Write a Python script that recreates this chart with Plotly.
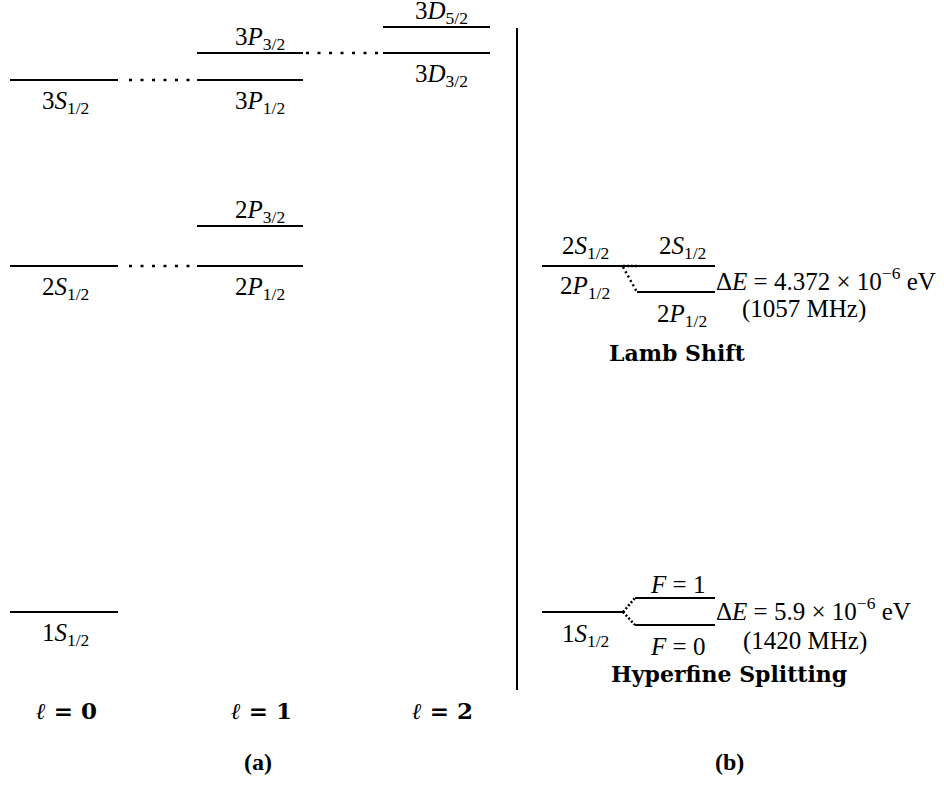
import plotly.graph_objects as go

# ---------------- data ----------------
# Panel (a): hydrogen fine-structure levels (schematic energies, arbitrary units)
a_labels = ["1<i>S</i><sub>1/2</sub>", "2<i>S</i><sub>1/2</sub>", "2<i>P</i><sub>1/2</sub>",
            "2<i>P</i><sub>3/2</sub>", "3<i>S</i><sub>1/2</sub>", "3<i>P</i><sub>1/2</sub>",
            "3<i>P</i><sub>3/2</sub>", "3<i>D</i><sub>3/2</sub>", "3<i>D</i><sub>5/2</sub>"]
a_ell = [0, 0, 1, 1, 0, 1, 1, 2, 2]
a_energy = [173, 519, 519, 559, 705, 705, 732, 732, 758]
a_label_above = [False, False, False, True, False, False, True, False, True]
# degenerate pairs joined by dotted lines (indices into a_*)
a_degenerate = [(1, 2), (4, 5), (6, 7)]
ell_labels = ["<b><i>ℓ</i> = 0</b>", "<b><i>ℓ</i> = 1</b>", "<b><i>ℓ</i> = 2</b>"]

# Panel (b): Lamb shift (schematic energies)
lamb_energy_2s = 519
lamb_energy_2p = 493
lamb_dE = "Δ<i>E</i> = 4.372 × 10<sup>−6</sup> eV"
lamb_freq = "(1057 MHz)"

# Panel (b): hyperfine splitting of 1S (schematic energies)
hf_energy_1s = 173
hf_energy_f1 = 187
hf_energy_f0 = 160
hf_dE = "Δ<i>E</i> = 5.9 × 10<sup>−6</sup> eV"
hf_freq = "(1420 MHz)"

# ---------------- layout constants ----------------
W, H = 944, 785
col_x0 = [10, 197, 383]
col_x1 = [118, 303, 490]
col_lab = [65, 260, 441]
dot_gap = {(1, 2): (129, 191), (4, 5): (129, 191), (6, 7): (306, 381)}
FONT = "Liberation Serif"
BFONT = "DejaVu Serif"
FS = 25
LW = 2

def Y(p):
    return H - p

fig = go.Figure()

def seg(xs, ys, dash="solid", width=LW):
    fig.add_trace(go.Scatter(x=xs, y=ys, mode="lines",
                             line=dict(color="black", width=width, dash=dash),
                             hoverinfo="skip", showlegend=False))

def hline(x0, x1, y, dash="solid", width=LW):
    seg([x0, x1], [y, y], dash, width)

annots = []
def text(x, y, s, anchor="center", size=FS, family=FONT):
    annots.append(dict(x=x, y=y, xref="x", yref="y", text=s, showarrow=False,
                       xanchor=anchor, yanchor="middle",
                       font=dict(family=family, size=size, color="black")))

# panel (a) levels
for lab, l, e, above in zip(a_labels, a_ell, a_energy, a_label_above):
    hline(col_x0[l], col_x1[l], e)
    text(col_lab[l], e + (15 if above else -22), lab)

# dotted connectors for degenerate levels
for i, j in a_degenerate:
    x0, x1 = dot_gap[(i, j)]
    hline(x0, x1, a_energy[i], dash="3px,8.5px", width=2.5)

for l, s in enumerate(ell_labels):
    text(col_lab[l] + 1, Y(710), s, size=23, family=BFONT)

# separator
seg([517, 517], [Y(690), Y(28)], width=2)

# panel (b) Lamb shift
hline(542, 715, lamb_energy_2s)
hline(637, 715, lamb_energy_2p)
seg([623, 637], [lamb_energy_2s, lamb_energy_2s], dash="2px,2px", width=2.5)
seg([623, 637], [lamb_energy_2s - 1, lamb_energy_2p], dash="2px,3px", width=2.5)
text(585, Y(247), "2<i>S</i><sub>1/2</sub>")
text(682, Y(247), "2<i>S</i><sub>1/2</sub>")
text(585, Y(287), "2<i>P</i><sub>1/2</sub>")
text(682, Y(315), "2<i>P</i><sub>1/2</sub>")
text(714, Y(279), lamb_dE, anchor="left")
text(804, Y(309), lamb_freq)
text(677, Y(353), "<b>Lamb Shift</b>", size=22, family=BFONT)

# panel (b) hyperfine
hline(542, 623, hf_energy_1s)
hline(635, 715, hf_energy_f1)
hline(635, 715, hf_energy_f0)
seg([623, 635], [hf_energy_1s, hf_energy_f1], dash="2px,2px", width=2.5)
seg([623, 635], [hf_energy_1s, hf_energy_f0], dash="2px,2px", width=2.5)
text(677, Y(584), "<i>F</i> = 1")
text(677, Y(646), "<i>F</i> = 0")
text(585, Y(635), "1<i>S</i><sub>1/2</sub>")
text(714, Y(609), hf_dE, anchor="left")
text(805, Y(641), hf_freq)
text(729, Y(674), "<b>Hyperfine Splitting</b>", size=22, family=BFONT)

# panel captions
text(258, Y(762), "<b>(a)</b>", size=24)
text(729, Y(762), "<b>(b)</b>", size=24)

fig.update_layout(
    width=W, height=H, margin=dict(l=0, r=0, t=0, b=0),
    paper_bgcolor="white", plot_bgcolor="white",
    xaxis=dict(range=[0, W], visible=False, fixedrange=True),
    yaxis=dict(range=[0, H], visible=False, fixedrange=True),
    annotations=annots, showlegend=False,
)
fig.write_html("out.html", config={"displayModeBar": False},
               post_script="document.body.style.margin='0';document.body.style.overflow='hidden';")
